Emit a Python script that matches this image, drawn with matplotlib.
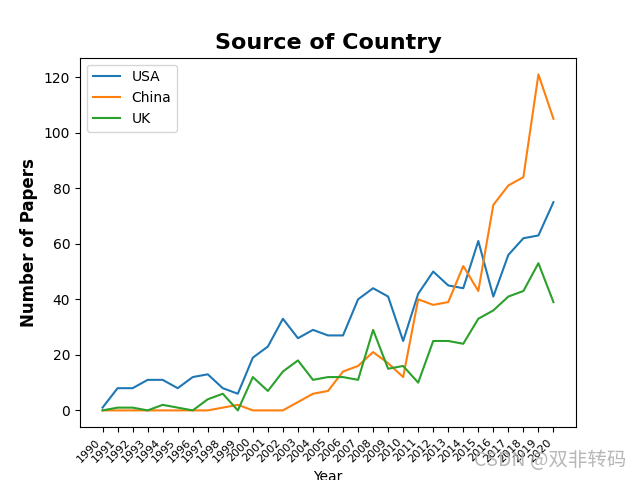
import matplotlib
matplotlib.use("Agg")
import matplotlib.pyplot as plt

# Papers per year by country
years = list(range(1990, 2021))
usa = [1, 8, 8, 11, 11, 8, 12, 13, 8, 6, 19, 23, 33, 26, 29, 27, 27, 40, 44, 41,
       25, 42, 50, 45, 44, 61, 41, 56, 62, 63, 75]
china = [0, 0, 0, 0, 0, 0, 0, 0, 1, 2, 0, 0, 0, 3, 6, 7, 14, 16, 21, 17,
         12, 40, 38, 39, 52, 43, 74, 81, 84, 121, 105]
uk = [0, 1, 1, 0, 2, 1, 0, 4, 6, 0, 12, 7, 14, 18, 11, 12, 12, 11, 29, 15,
      16, 10, 25, 25, 24, 33, 36, 41, 43, 53, 39]

fig = plt.figure(figsize=(6.4, 4.8), dpi=100)
plt.plot(years, usa, label="USA")
plt.plot(years, china, label="China")
plt.plot(years, uk, label="UK")
plt.xticks(years, [str(y) for y in years], rotation=45, ha="right", fontsize=8)
plt.xlabel("Year")
plt.ylabel("Number of Papers", fontsize=12, fontweight="bold")
plt.title("Source of Country", fontsize=16, fontweight="bold")
plt.legend(loc="upper left")

# watermark
fig.text(0.978, 0.018, "CSDN @双非转码", ha="right", va="bottom", fontsize=14,
         color="#b0b0b0", alpha=0.9, family=["Noto Sans CJK SC", "DejaVu Sans"])

plt.savefig("out.png")
